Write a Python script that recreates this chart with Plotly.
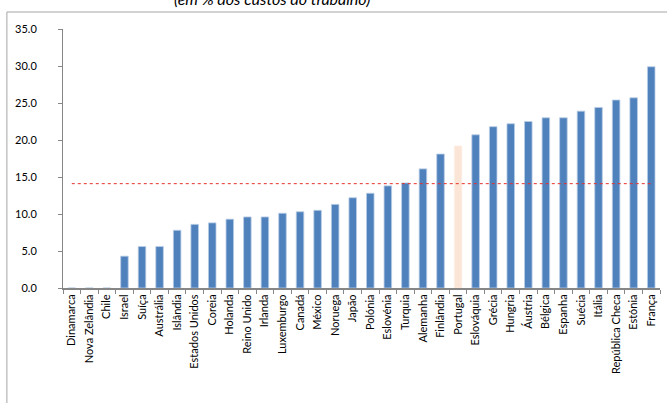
import plotly.graph_objects as go

countries = ["Dinamarca", "Nova Zelândia", "Chile", "Israel", "Suíça", "Austrália", "Islândia",
             "Estados Unidos", "Coreia", "Holanda", "Reino Unido", "Irlanda", "Luxemburgo", "Canadá",
             "México", "Noruega", "Japão", "Polónia", "Eslovénia", "Turquia", "Alemanha", "Finlândia",
             "Portugal", "Eslováquia", "Grécia", "Hungria", "Áustria", "Bélgica", "Espanha", "Suécia",
             "Itália", "República Checa", "Estónia", "França"]
values = [0.0, 0.0, 0.0, 4.3, 5.6, 5.6, 7.8,
          8.6, 8.8, 9.3, 9.6, 9.6, 10.1, 10.3,
          10.5, 11.3, 12.2, 12.8, 13.8, 14.2, 16.1, 18.1,
          19.2, 20.7, 21.8, 22.2, 22.5, 23.0, 23.0, 23.9,
          24.4, 25.4, 25.7, 29.9]
average = 14.1
highlight = "Portugal"
title_text = "(em % dos custos do trabalho)"
yticks = [0, 5, 10, 15, 20, 25, 30, 35]

bar_colors = ["#FBE5D6" if c == highlight else "#4F81BD" for c in countries]
edge_colors = ["#FDEFE6" if c == highlight else "#B9CDE5" for c in countries]

fig = go.Figure()
fig.add_trace(go.Bar(x=countries, y=values, marker=dict(color=bar_colors,
                     line=dict(color=edge_colors, width=0.8)), showlegend=False))
fig.add_trace(go.Scatter(x=countries, y=[average] * len(countries), mode="lines",
                         line=dict(color="#E8302A", width=1, dash="dot"), showlegend=False))

fig.update_layout(
    width=667, height=403,
    margin=dict(l=63, r=7, t=29, b=115),
    paper_bgcolor="white", plot_bgcolor="white",
    bargap=0.57,
    font=dict(family="Lato, Open Sans, sans-serif", size=11, color="#000000"),
    xaxis=dict(type="category", tickangle=-90, showline=True, linecolor="#868686", linewidth=2,
               ticks="outside", tickson="boundaries", ticklen=4, tickcolor="#868686",
               tickfont=dict(size=11), showgrid=False, zeroline=False),
    yaxis=dict(range=[0, 35], tickvals=yticks, ticktext=[f"{v:.1f}" for v in yticks],
               showline=True, linecolor="#868686", linewidth=1, ticks="outside", ticklen=4,
               tickcolor="#868686", showgrid=False, zeroline=False, tickfont=dict(size=11),
               ticklabelstandoff=19),
    shapes=[dict(type="rect", xref="paper", yref="paper", x0=-0.094, x1=1.2, y0=-0.6, y1=1.0656,
                 line=dict(color="#A6A6A6", width=1), layer="below")],
    annotations=[dict(text=f"<i>{title_text}</i>", xref="paper", yref="paper",
                      x=(272 - 63) / 597, y=(288 + 1.5) / 259, xanchor="center", yanchor="middle",
                      showarrow=False, font=dict(size=16))],
)

fig.write_html("out.html")
